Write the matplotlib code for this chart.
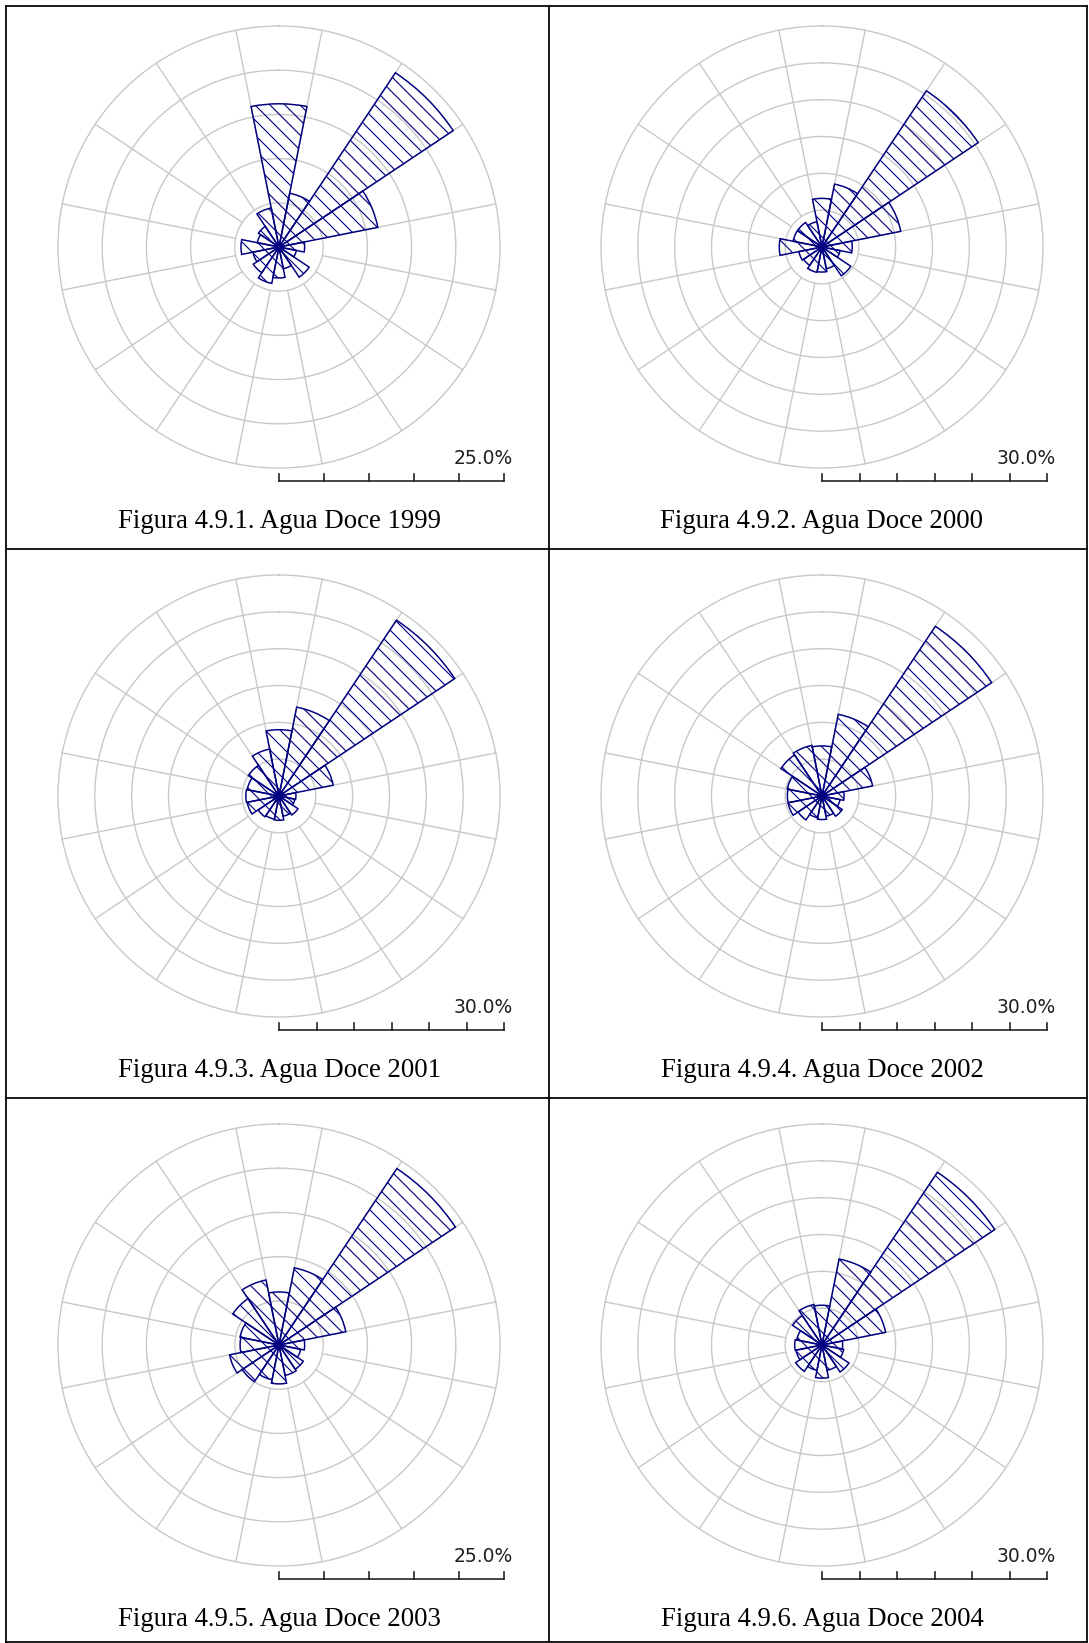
import numpy as np
import matplotlib.pyplot as plt
from matplotlib.lines import Line2D

# figure size in pixels
W, H = 1089, 1643
DPI = 90

# 16 wind directions, clockwise from north
directions = ['N', 'NNE', 'NE', 'ENE', 'E', 'ESE', 'SE', 'SSE',
              'S', 'SSW', 'SW', 'WSW', 'W', 'WNW', 'NW', 'NNW']

captions = ['Figura 4.9.1. Agua Doce 1999', 'Figura 4.9.2. Agua Doce 2000',
            'Figura 4.9.3. Agua Doce 2001', 'Figura 4.9.4. Agua Doce 2002',
            'Figura 4.9.5. Agua Doce 2003', 'Figura 4.9.6. Agua Doce 2004']
scale_max = [25, 30, 30, 30, 25, 30]

# frequency (%) per direction
freq_1999 = [16.2, 6.2, 23.7, 11.4, 2.9, 2.0, 4.1, 2.5, 3.5, 4.2, 3.5, 3.0, 4.3, 2.5, 2.8, 4.5]
freq_2000 = [6.6, 8.7, 25.5, 10.9, 4.1, 2.5, 4.7, 3.0, 3.4, 3.5, 3.0, 3.2, 5.8, 4.0, 4.0, 3.5]
freq_2001 = [9.0, 12.3, 28.7, 7.5, 2.3, 2.2, 3.1, 2.8, 3.3, 3.2, 3.4, 4.4, 4.5, 4.4, 5.0, 6.5]
freq_2002 = [6.8, 11.3, 27.7, 7.0, 3.0, 2.5, 3.3, 2.8, 3.2, 3.0, 3.9, 4.7, 4.7, 4.8, 6.7, 7.0]
freq_2003 = [6.0, 8.9, 24.0, 7.7, 2.9, 2.5, 3.3, 3.5, 4.4, 4.0, 5.0, 5.7, 4.4, 4.5, 6.3, 7.5]
freq_2004 = [5.4, 11.9, 28.2, 8.8, 2.8, 3.0, 4.4, 3.5, 4.5, 3.5, 4.3, 3.6, 3.7, 3.5, 4.8, 5.6]
all_freq = [freq_1999, freq_2000, freq_2001, freq_2002, freq_2003, freq_2004]

NAVY = '#000080'
GRID = '#c8c8c8'
R = 221          # circle radius, px
BAR_LEN = 225    # scale bar length, px

plt.rcParams['hatch.linewidth'] = 0.9

fig = plt.figure(figsize=(W / DPI, H / DPI), dpi=DPI)
fig.patch.set_facecolor('white')


def fx(x):
    return x / W


def fy(y):
    return 1 - y / H


def fig_line(xs, ys, **kw):
    fig.add_artist(Line2D([fx(x) for x in xs], [fy(y) for y in ys],
                          transform=fig.transFigure, **kw))


# table borders
for x in [6, 549, 1087]:
    fig_line([x, x], [6, 1642], color='black', lw=1.4)
for y in [6, 549, 1098, 1642]:
    fig_line([6, 1087], [y, y], color='black', lw=1.4)

centers_x = [279, 822]
centers_y = [247, 796, 1345]
theta = np.deg2rad(np.arange(len(directions)) * 22.5)
width = np.deg2rad(22.5)

for i in range(6):
    cx = centers_x[i % 2]
    cy = centers_y[i // 2]
    rmax = scale_max[i]

    ax = fig.add_axes([fx(cx - R), fy(cy + R), 2 * R / W, 2 * R / H],
                      projection='polar')
    ax.set_theta_zero_location('N')
    ax.set_theta_direction(-1)
    ax.set_facecolor('none')
    ax.grid(False)
    ax.set_xticks([])
    ax.set_yticks([])
    ax.spines['polar'].set_visible(False)

    # rings and spokes
    t = np.linspace(0, 2 * np.pi, 400)
    for r in range(5, rmax + 1, 5):
        ax.plot(t, np.full_like(t, r), color=GRID, lw=1.1, zorder=1, clip_on=False)
    for k in range(16):
        a = np.deg2rad(11.25 + 22.5 * k)
        ax.plot([a, a], [5, rmax], color=GRID, lw=1.1, zorder=1, clip_on=False)

    ax.bar(theta, all_freq[i], width=width, bottom=0, facecolor='none',
           edgecolor=NAVY, hatch='\\\\', linewidth=1.2, zorder=3)
    ax.set_ylim(0, rmax)

    # scale bar
    by = cy + 234
    n_seg = rmax // 5
    fig_line([cx, cx + BAR_LEN], [by, by], color='#202020', lw=1.3)
    for k in range(n_seg + 1):
        tx = cx + BAR_LEN * k / n_seg
        fig_line([tx, tx], [by, by - 7], color='#202020', lw=1.3)
    fig.text(fx(cx + 234), fy(by - 17), '%.1f%%' % rmax, ha='right',
             va='baseline', fontsize=15, color='#202020', family='DejaVu Sans')

    # caption
    fig.text(fx(cx), fy(cy + 281), captions[i], ha='center', va='baseline',
             fontsize=21.4, family='Liberation Serif', color='black')

fig.savefig('out.png', dpi=DPI, facecolor='white')
